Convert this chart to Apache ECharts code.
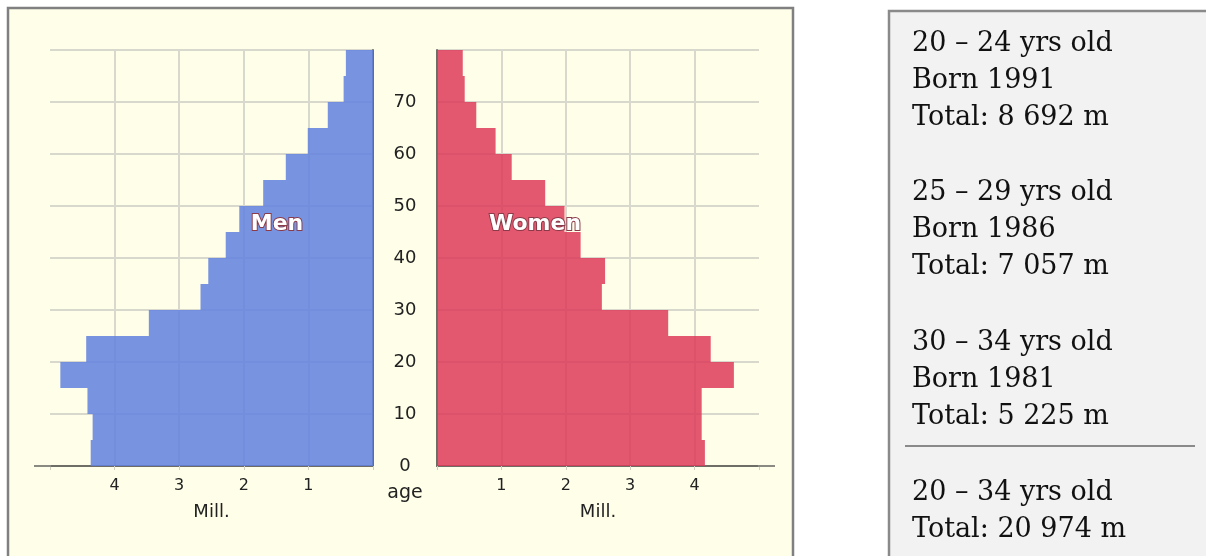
<!DOCTYPE html>
<html>
<head>
<meta charset="utf-8">
<script src="https://cdn.jsdelivr.net/npm/echarts@6/dist/echarts.min.js"></script>
<style>
html,body{margin:0;padding:0;background:#fff;}
#c{width:1206px;height:556px;}
</style>
</head>
<body>
<div id="c"></div>
<script>
// Age groups (5-year bins), bottom to top
var ageGroups = ['0-4','5-9','10-14','15-19','20-24','25-29','30-34','35-39','40-44','45-49','50-54','55-59','60-64','65-69','70-74','75-79'];
// Population in millions
var men   = [4.37, 4.34, 4.42, 4.84, 4.44, 3.47, 2.67, 2.55, 2.28, 2.07, 1.70, 1.35, 1.01, 0.70, 0.455, 0.42];
var women = [4.16, 4.11, 4.11, 4.61, 4.25, 3.59, 2.56, 2.61, 2.23, 1.98, 1.68, 1.16, 0.91, 0.61, 0.43, 0.40];
var ageTicks = [0, 10, 20, 30, 40, 50, 60, 70];
var millTicks = [1, 2, 3, 4];
// Side panel text
var panelGroups = [
  ['20 \u2013 24 yrs old', 'Born 1991', 'Total: 8 692 m'],
  ['25 \u2013 29 yrs old', 'Born 1986', 'Total: 7 057 m'],
  ['30 \u2013 34 yrs old', 'Born 1981', 'Total: 5 225 m'],
  ['20 \u2013 34 yrs old', 'Total: 20 974 m']
];

var chart = echarts.init(document.getElementById('c'));
var FONT = 'DejaVu Sans';
var gridColor = '#d8d8cc';
var axisColor = '#6e6e66';

function xAxisFor(gi, inverse) {
  return {
    gridIndex: gi, type: 'value', inverse: inverse, min: 0, max: 5, interval: 1,
    axisLine: {show: true, lineStyle: {color: axisColor, width: 2}},
    axisTick: {show: true, length: 4, lineStyle: {color: '#cfcfc4', width: 1}},
    axisLabel: {
      fontFamily: FONT, fontSize: 16, color: '#222', margin: 12,
      formatter: function (v) { return millTicks.indexOf(v) >= 0 ? String(v) : ''; }
    },
    splitLine: {show: true, showMaxLine: false, lineStyle: {color: gridColor, width: 2}},
    name: 'Mill.', nameLocation: 'middle', nameGap: 37,
    nameTextStyle: {fontFamily: FONT, fontSize: 18, color: '#222'}
  };
}

var panelGraphics = [];
panelGraphics.push({
  type: 'rect', z: -100, shape: {x: 8, y: 8, width: 785, height: 570},
  style: {fill: '#fffee8', stroke: '#808080', lineWidth: 2.5}
});
panelGraphics.push({
  type: 'rect', z: -100, shape: {x: 889, y: 11, width: 340, height: 570},
  style: {fill: '#f2f2f2', stroke: '#8a8a8a', lineWidth: 2.5}
});
// axis line extensions beyond the grid
panelGraphics.push({type: 'line', z: 5, shape: {x1: 34, y1: 466, x2: 51, y2: 466}, style: {stroke: '#8a8a82', lineWidth: 2}});
panelGraphics.push({type: 'line', z: 5, shape: {x1: 758, y1: 466, x2: 775, y2: 466}, style: {stroke: '#8a8a82', lineWidth: 2}});
panelGraphics.push({
  type: 'text', z: 100, x: 405, y: 493,
  style: {text: 'age', font: '19px "DejaVu Sans"', fill: '#222', textAlign: 'center', textVerticalAlign: 'middle'}
});
panelGraphics.push({
  type: 'text', z: 100, x: 277, y: 224,
  style: {text: 'Men', font: 'bold 22px "DejaVu Sans"', fill: '#fff', stroke: '#8a3a48', lineWidth: 2,
          textAlign: 'center', textVerticalAlign: 'middle'}
});
panelGraphics.push({
  type: 'text', z: 100, x: 535, y: 224,
  style: {text: 'Women', font: 'bold 22px "DejaVu Sans"', fill: '#fff', stroke: '#8a3a48', lineWidth: 2,
          textAlign: 'center', textVerticalAlign: 'middle'}
});
var groupTops = [44, 193, 343, 493];
panelGroups.forEach(function (g, gi) {
  g.forEach(function (line, li) {
    panelGraphics.push({
      type: 'text', z: 100, x: 912, y: groupTops[gi] + li * 37,
      style: {text: line, font: '27px "DejaVu Serif"', fill: '#111', textAlign: 'left', textVerticalAlign: 'middle'}
    });
  });
});
panelGraphics.push({type: 'line', z: 5, shape: {x1: 905, y1: 446, x2: 1195, y2: 446}, style: {stroke: '#8a8a8a', lineWidth: 2}});

chart.setOption({
  backgroundColor: '#ffffff',
  animation: false,
  grid: [
    {left: 50, top: 50, width: 323, height: 416},
    {left: 437, top: 50, width: 322, height: 416}
  ],
  xAxis: [xAxisFor(0, true), xAxisFor(1, false)],
  yAxis: [
    {gridIndex: 0, type: 'category', data: ageGroups, position: 'right', boundaryGap: true,
     axisLine: {show: true, lineStyle: {color: axisColor, width: 2}}, axisTick: {show: false}, axisLabel: {show: false}, splitLine: {show: false}},
    {gridIndex: 0, type: 'value', min: 0, max: 80, interval: 10, position: 'right',
     axisLine: {show: false}, axisTick: {show: false}, axisLabel: {show: false},
     splitLine: {show: true, lineStyle: {color: gridColor, width: 2}}},
    {gridIndex: 1, type: 'category', data: ageGroups, position: 'left', boundaryGap: true,
     axisLine: {show: true, lineStyle: {color: axisColor, width: 2}}, axisTick: {show: false}, axisLabel: {show: false}, splitLine: {show: false}},
    {gridIndex: 1, type: 'value', min: 0, max: 80, interval: 10, position: 'left',
     axisLine: {show: false}, axisTick: {show: false},
     axisLabel: {show: true, margin: 32, align: 'center', fontFamily: FONT, fontSize: 18, color: '#222',
       formatter: function (v) { return ageTicks.indexOf(v) >= 0 ? String(v) : ''; }},
     splitLine: {show: true, lineStyle: {color: gridColor, width: 2}}}
  ],
  series: [
    {name: 'Men', type: 'bar', xAxisIndex: 0, yAxisIndex: 0, data: men, barWidth: '100%',
     itemStyle: {color: 'rgba(96,129,223,0.85)'}},
    {name: 'Women', type: 'bar', xAxisIndex: 1, yAxisIndex: 2, data: women, barWidth: '100%',
     itemStyle: {color: 'rgba(222,59,89,0.85)'}}
  ],
  graphic: {elements: panelGraphics}
});
</script>
</body>
</html>
